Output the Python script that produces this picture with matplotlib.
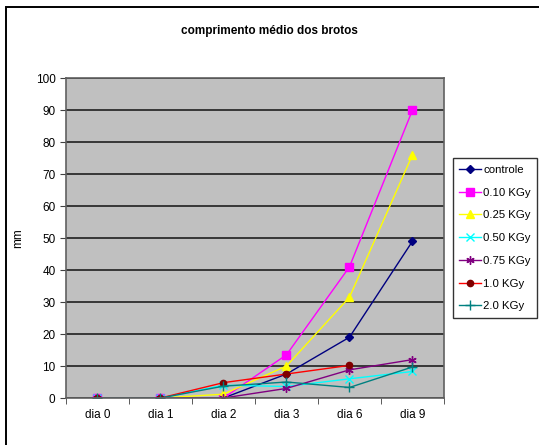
import matplotlib.pyplot as plt
import numpy as np

plt.rcParams['font.family'] = ['Liberation Sans', 'DejaVu Sans']

dias = ['dia 0', 'dia 1', 'dia 2', 'dia 3', 'dia 6', 'dia 9']
controle = [0, 0, 0, 7.5, 19, 49]
kgy_010 = [0, 0, 0, 13.5, 41, 90]
kgy_025 = [0, 0, 1.2, 10, 31.5, 76]
kgy_050 = [0, 0, 4, 3.6, 6, 8.3]
kgy_075 = [0, 0, 0, 3, 8.8, 12]
kgy_10 = [0, 0, 4.8, 7.5, 10.2]
kgy_20 = [0, 0, 3.7, 5, 3.3, 9.7]

series = [
    ('controle', controle, '#000080', '#000080', 'D', 4),
    ('0.10 KGy', kgy_010, '#FF00FF', '#FF00FF', 's', 5.5),
    ('0.25 KGy', kgy_025, '#FFFF00', '#FFFF00', '^', 5.5),
    ('0.50 KGy', kgy_050, '#00FFFF', '#00FFFF', 'x', 5.5),
    ('0.75 KGy', kgy_075, '#800080', '#800080', (6, 2, 0), 6),
    ('1.0 KGy', kgy_10, '#FF0000', '#800000', 'o', 4.5),
    ('2.0 KGy', kgy_20, '#008080', '#008080', '+', 6.5),
]

W, H = 539, 445
fig = plt.figure(figsize=(W / 100, H / 100), dpi=100)
# outer chart border, running off the right and bottom edges
fig.patches.append(plt.Rectangle((6 / W, -0.05), 1.1, 1 - 7 / H + 0.05,
                                 transform=fig.transFigure, fill=False,
                                 edgecolor='black', linewidth=1.4))

ax = fig.add_axes([0.1224, 0.1056, 0.7013, 0.719])
ax.set_facecolor('#C0C0C0')

x = np.arange(len(dias))
for name, vals, lc, mc, mk, ms in series:
    ax.plot(x[:len(vals)], vals, color=lc, marker=mk, markersize=ms,
            markerfacecolor=mc, markeredgecolor=mc, markeredgewidth=1.0,
            linewidth=1.0, label=name)

ax.set_xlim(-0.5, 5.5)
ax.set_ylim(0, 100)
ax.set_yticks(np.arange(0, 101, 10))
ax.yaxis.grid(True, color='#202020', linewidth=1.2)
ax.set_axisbelow(True)

ax.set_xticks(x)
ax.set_xticklabels(dias)
ax.set_xticks(np.arange(-0.5, 6, 1), minor=True)
ax.tick_params(axis='x', which='major', length=0, pad=8, labelsize=8.5)
ax.tick_params(axis='x', which='minor', length=4, direction='out', color='#404040')
ax.tick_params(axis='y', length=4, direction='out', labelsize=8.5, color='#404040')

for side in ['top', 'right', 'left', 'bottom']:
    ax.spines[side].set_color('#606060')
    ax.spines[side].set_linewidth(1.2)

ax.set_ylabel('mm', fontsize=8.5, labelpad=8)
fig.text(0.5, 0.93, 'comprimento médio dos brotos', ha='center', va='center',
         fontsize=8.5, fontweight='bold')

leg = ax.legend(loc='center left', bbox_to_anchor=(1.015, 0.5), fontsize=8.2,
                frameon=True, fancybox=False, handlelength=1.9,
                borderpad=0.55, labelspacing=1.12, handletextpad=0.2,
                borderaxespad=0.3)
leg.get_frame().set_edgecolor('black')
leg.get_frame().set_linewidth(1.0)

fig.savefig('out.png', dpi=100)
